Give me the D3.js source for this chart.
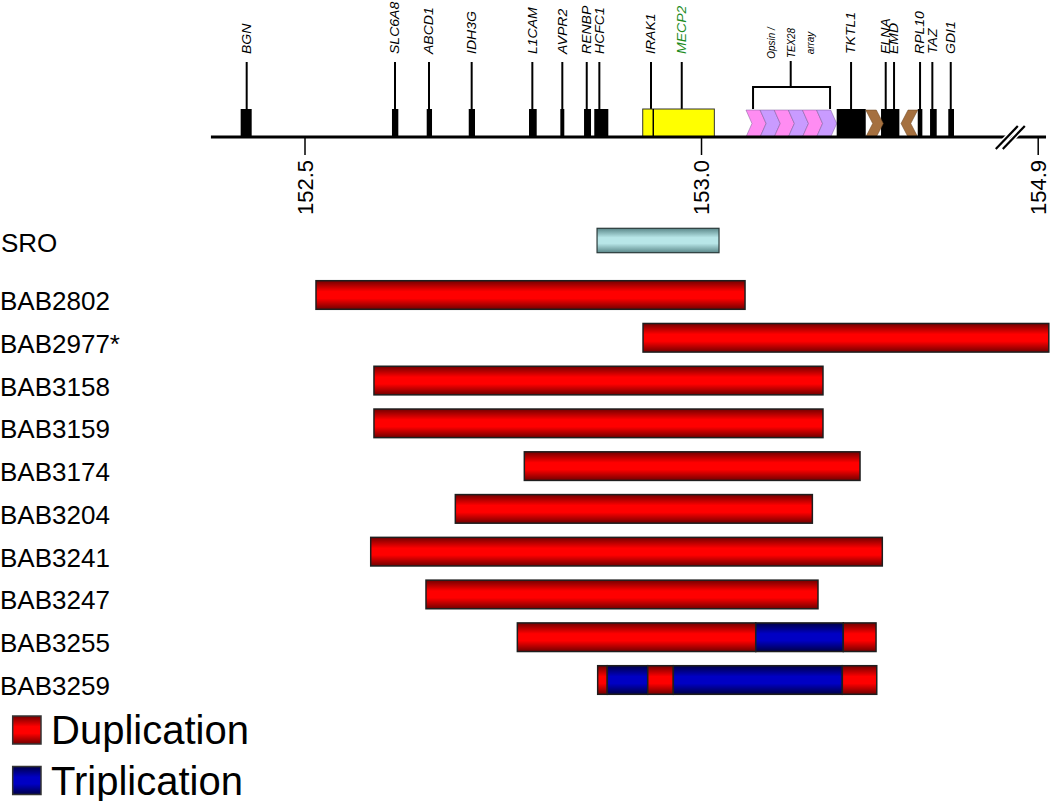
<!DOCTYPE html>
<html><head><meta charset="utf-8">
<script src="https://cdn.jsdelivr.net/npm/d3@7"></script>
<style>body{margin:0;background:#fff}svg{display:block}</style>
</head><body>
<script>
// ---------- DATA (Mb on chromosome X) ----------
const tickValues = [152.5, 153.0, 154.9];
const axisExtent = [152.382, 154.9105];
const breakRange = [153.39, 154.8657];

const geneLabels = ["BGN","SLC6A8","ABCD1","IDH3G","L1CAM","AVPR2","RENBP","HCFC1","IRAK1","MECP2","TKTL1","FLNA","EMD","RPL10","TAZ","GDI1"];
const geneMarks  = [152.4271,152.6141,152.6570,152.7108,152.7873,152.8251,152.8559,152.8718,152.9369,152.9757,153.1892,153.2329,153.2434,153.2762,153.2917,153.3149];
const geneLabelColors = ["#000","#000","#000","#000","#000","#000","#000","#000","#000","#1e8c1e","#000","#000","#000","#000","#000","#000"];

const blockStarts = [152.4195,152.6103,152.6541,152.7071,152.7831,152.8226,152.8525,152.8654,153.1711,153.2270,153.2733,153.2888,153.3118];
const blockEnds   = [152.4334,152.6183,152.6608,152.7150,152.7928,152.8276,152.8613,152.8831,153.2077,153.2501,153.2791,153.2972,153.3190];

const yellowBlock = [152.9265, 153.0168];
const yellowDivider = 152.9398;

const opsinRange = [153.0567, 153.1711];
const opsinColors = ["#ff8cf2","#c99bff","#ff8cf2","#c99bff","#ff8cf2","#c99bff"];
const opsinBracket = [153.0656, 153.1627];
const opsinMark = 153.1131;
const opsinLabel = ["Opsin /","TEX28","array"];

const brownRight = [153.2077, 153.2299];
const brownLeft  = [153.2522, 153.2733];

const sroRange = [152.8689, 153.0227];

const sampleIds = ["BAB2802","BAB2977*","BAB3158","BAB3159","BAB3174","BAB3204","BAB3241","BAB3247","BAB3255","BAB3259"];
const segSample = ["BAB2802","BAB2977*","BAB3158","BAB3159","BAB3174","BAB3204","BAB3241","BAB3247","BAB3255","BAB3255","BAB3255","BAB3259","BAB3259","BAB3259","BAB3259","BAB3259"];
const segStart  = [152.5145,152.9269,152.5876,152.5876,152.7772,152.6902,152.5835,152.6532,152.7684,153.0690,153.1794,152.8697,152.8818,152.9328,152.9651,153.1782];
const segEnd    = [153.0555,154.914,153.1538,153.1538,153.2005,153.1404,153.2286,153.1475,153.0690,153.1794,153.2207,152.8818,152.9328,152.9651,153.1782,153.2216];
const segType   = ["dup","dup","dup","dup","dup","dup","dup","dup","dup","trip","dup","dup","trip","dup","trip","dup"];

const legendLabels = ["Duplication","Triplication"];
const legendTypes = ["dup","trip"];

// ---------- DRAW ----------
const W = 1050, H = 801;
const svg = d3.select("body").append("svg").attr("width", W).attr("height", H);
const defs = svg.append("defs");
function grad(id, edge, mid) {
  const g = defs.append("linearGradient").attr("id", id)
    .attr("x1", 0).attr("y1", 0).attr("x2", 0).attr("y2", 1);
  [[0, edge], [0.38, mid], [0.62, mid], [1, edge]].forEach(([o, c]) =>
    g.append("stop").attr("offset", o).attr("stop-color", c));
}
grad("gDup", "#720000", "#ff0000");
grad("gTrip", "#000048", "#0000c4");
grad("gSro", "#5a8789", "#b8e6e8");
const fillOf = t => t === "dup" ? "url(#gDup)" : "url(#gTrip)";

const x = d3.scaleLinear()
  .domain([152.5, breakRange[0], breakRange[1], 154.9])
  .range([304.5, 1010.3, 1010.5, 1037.7]);

const axisY = 137, boxTop = 109, lineTop = 62, labelBase = 54;
const font = "'Liberation Sans', Arial, sans-serif";

// gene connector lines
svg.append("g").selectAll("line").data(geneMarks).join("line")
  .attr("x1", d => x(d)).attr("x2", d => x(d))
  .attr("y1", lineTop).attr("y2", boxTop + 2)
  .attr("stroke", "#000").attr("stroke-width", 2);

// gene labels (elongated italic)
svg.append("g").selectAll("text").data(geneLabels).join("text")
  .attr("transform", (d, i) => `translate(${x(geneMarks[i])},${labelBase}) rotate(-90) scale(1.17,1)`)
  .attr("dy", "0.35em").attr("text-anchor", "start")
  .attr("font-family", font).attr("font-style", "italic").attr("font-size", 12)
  .attr("fill", (d, i) => geneLabelColors[i])
  .text(d => d);

// opsin bracket
const ob = svg.append("g").attr("stroke", "#000").attr("stroke-width", 2).attr("fill", "none");
ob.append("path").attr("d",
  `M${x(opsinBracket[0])},${boxTop}V87H${x(opsinBracket[1])}V${boxTop}`);
ob.append("line").attr("x1", x(opsinMark)).attr("x2", x(opsinMark)).attr("y1", 61).attr("y2", 87);
const ot = svg.append("text")
  .attr("transform", `translate(${x(opsinMark)},43) rotate(-90) scale(0.9,1)`)
  .attr("text-anchor", "middle").attr("font-family", font).attr("font-style", "italic")
  .attr("font-size", 11);
ot.selectAll("tspan").data(opsinLabel).join("tspan")
  .attr("x", 0).attr("dy", (d, i) => i === 0 ? "-1.42em" : "1.77em").text(d => d);

// yellow block
svg.append("rect").attr("x", x(yellowBlock[0])).attr("y", boxTop)
  .attr("width", x(yellowBlock[1]) - x(yellowBlock[0])).attr("height", axisY - boxTop)
  .attr("fill", "#ffff00").attr("stroke", "#333").attr("stroke-width", 1);
svg.append("line").attr("x1", x(yellowDivider)).attr("x2", x(yellowDivider))
  .attr("y1", boxTop).attr("y2", axisY).attr("stroke", "#000").attr("stroke-width", 1.5);

// chevrons
function chevron(x0, x1, d, dir) {
  const yt = boxTop + 1, yb = axisY, ym = (yt + yb) / 2;
  if (dir > 0) return `M${x0},${yt}L${x1 - d},${yt}L${x1},${ym}L${x1 - d},${yb}L${x0},${yb}L${x0 + d},${ym}Z`;
  return `M${x1},${yt}L${x0 + d},${yt}L${x0},${ym}L${x0 + d},${yb}L${x1},${yb}L${x1 - d},${ym}Z`;
}
const oX0 = x(opsinRange[0]), oX1 = x(opsinRange[1]);
const nd = 6, period = (oX1 - oX0 - nd) / opsinColors.length;
svg.append("g").selectAll("path").data(opsinColors).join("path")
  .attr("d", (c, i) => chevron(oX0 + i * period, oX0 + i * period + period + nd, nd, 1))
  .attr("fill", c => c).attr("stroke", "#7a5a99").attr("stroke-width", 0.5);

// black gene blocks
svg.append("g").selectAll("rect").data(blockStarts).join("rect")
  .attr("x", (d) => x(d)).attr("y", boxTop)
  .attr("width", (d, i) => x(blockEnds[i]) - x(d)).attr("height", axisY - boxTop)
  .attr("fill", "#000");

svg.append("path").attr("d", chevron(x(brownRight[0]), x(brownRight[1]), 7, 1))
  .attr("fill", "#a5703f").attr("stroke", "#6b4520").attr("stroke-width", 0.5);
svg.append("path").attr("d", chevron(x(brownLeft[0]), x(brownLeft[1]), 7, -1))
  .attr("fill", "#a5703f").attr("stroke", "#6b4520").attr("stroke-width", 0.5);

// main axis line
svg.append("line").attr("x1", x(axisExtent[0])).attr("x2", x(axisExtent[1]))
  .attr("y1", axisY).attr("y2", axisY).attr("stroke", "#000").attr("stroke-width", 3);

// ticks
const ax = svg.append("g").attr("transform", `translate(0,${axisY})`)
  .call(d3.axisBottom(x).tickValues(tickValues).tickFormat(d3.format(".1f")).tickSize(18));
ax.select(".domain").remove();
ax.selectAll(".tick line").attr("stroke", "#000").attr("stroke-width", 1.5);
ax.selectAll(".tick text")
  .attr("transform", "rotate(-90)").attr("x", -23).attr("y", 0).attr("dy", "0.35em")
  .attr("text-anchor", "end").attr("font-family", font).attr("font-size", 22).attr("fill", "#000");

// break mark
const bx = x(breakRange[0]);
const brk = svg.append("g");
[-3.5, 3.5].forEach(o => {
  brk.append("line").attr("x1", bx + o - 11).attr("y1", axisY + 12)
    .attr("x2", bx + o + 11).attr("y2", axisY - 11)
    .attr("stroke", "#fff").attr("stroke-width", 5);
});
[-3.5, 3.5].forEach(o => {
  brk.append("line").attr("x1", bx + o - 11).attr("y1", axisY + 12)
    .attr("x2", bx + o + 11).attr("y2", axisY - 11)
    .attr("stroke", "#000").attr("stroke-width", 2.2);
});

// SRO
const sroY = 240.5, sroH = 24.4;
svg.append("rect").attr("x", x(sroRange[0])).attr("y", sroY - sroH / 2)
  .attr("width", x(sroRange[1]) - x(sroRange[0])).attr("height", sroH)
  .attr("fill", "url(#gSro)").attr("stroke", "#2a3a3a").attr("stroke-width", 1.2);
svg.append("text").attr("x", 1).attr("y", sroY + 11.5)
  .attr("font-family", font).attr("font-size", 26).text("SRO");

// samples
const rowY = d3.scalePoint().domain(sampleIds).range([295, 680]);
const barH = 28.6;
svg.append("g").selectAll("rect").data(segStart).join("rect")
  .attr("x", d => x(d)).attr("y", (d, i) => rowY(segSample[i]) - barH / 2)
  .attr("width", (d, i) => x(segEnd[i]) - x(d)).attr("height", barH)
  .attr("fill", (d, i) => fillOf(segType[i]))
  .attr("stroke", "#1e1e1e").attr("stroke-width", 1.5);
svg.append("g").selectAll("text").data(sampleIds).join("text")
  .attr("x", 0).attr("y", d => rowY(d) + 15)
  .attr("font-family", font).attr("font-size", 26).attr("fill", "#000")
  .text(d => d);

// legend
const lg = svg.append("g");
legendLabels.forEach((l, i) => {
  const y0 = 716 + i * 50.5;
  lg.append("rect").attr("x", 12.7).attr("y", y0).attr("width", 28.3).attr("height", 28)
    .attr("fill", fillOf(legendTypes[i])).attr("stroke", "#333").attr("stroke-width", 1.5);
  lg.append("text").attr("x", 51).attr("y", y0 + 28)
    .attr("font-family", font).attr("font-size", 40).attr("fill", "#000").text(l);
});
</script>
</body></html>
